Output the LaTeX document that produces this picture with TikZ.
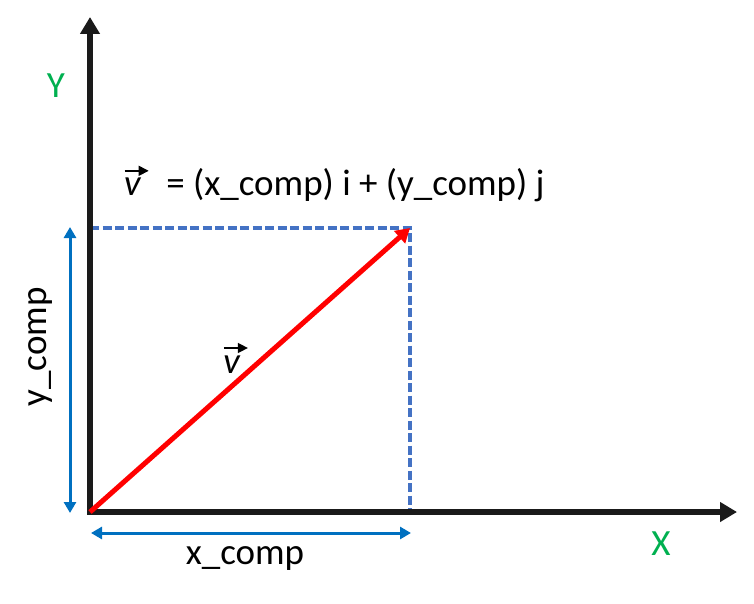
\documentclass[tikz,border=0pt]{standalone}
\usepackage{fontspec}
\setmainfont{Carlito}
\usetikzlibrary{arrows.meta,positioning}
\definecolor{axisgreen}{HTML}{00B050}
\definecolor{compblue}{HTML}{0070C0}
\definecolor{guideblue}{HTML}{4472C4}
\definecolor{axisblack}{HTML}{1A1A1A}
\newcommand{\vecsym}{\textit{v}\llap{\tikz[baseline]{\draw[line width=1.5pt,-{Triangle[length=10pt,width=10pt]}] (0,25pt) -- (24pt,25pt);}\kern-8pt}}

\begin{document}
\begin{tikzpicture}[x=1pt,y=-1pt,
	axis/.style={axisblack, line width=6.5pt, -{Triangle[length=17pt,width=19pt]}},
	comp/.style={compblue, line width=3pt, {Triangle[length=11pt,width=12pt]}-{Triangle[length=11pt,width=12pt]}},
	guide/.style={guideblue, line width=3.2pt, dash pattern=on 9pt off 3.5pt},
	vecarrow/.style={red, line width=5pt, -{Triangle[length=14pt,width=16pt]}},
	lbl/.style={font=\fontsize{37}{40}\selectfont, inner sep=0pt}]
	\useasboundingbox (0,0) rectangle (754,604);
	% Points
	\coordinate (O) at (90,512);
	\coordinate (P) at (410,228);
	\coordinate (Ytop) at (90,17);
	\coordinate (Xend) at (737,512);
	\coordinate (Py) at (90,228);
	\coordinate (Px) at (410,512);
	
	% Guides
	\draw[guide] (Py) -- (P) -- (Px);
	
	% Axes
	\draw[axis] (O) -- (Ytop);
	\draw[axis] ([xshift=-3pt]O) -- (Xend);
	\node[lbl, text=axisgreen] (ylab) at (56,86) {Y};
	\node[lbl, text=axisgreen] (xlab) at (661,544) {X};
	
	% Components
	\coordinate (yc1) at (70,227);
	\coordinate (yc2) at (70,513);
	\coordinate (xc1) at (91,533);
	\coordinate (xc2) at (411,533);
	\draw[comp] (yc1) -- (yc2);
	\draw[comp] (xc1) -- (xc2);
	\node[lbl, rotate=90] (ycomp) at (40,347) {y\_comp};
	\node[lbl] (xcomp) at (245,558) {x\_comp};
	
	% Vector
	\draw[vecarrow] (O) -- (P);
	\node[lbl] (vlab) at (232,358) {\vecsym};
	\node[lbl, anchor=west] (eqn) at (124,184) {\vecsym\hspace{0.45em} = (x\_comp) i + (y\_comp) j};
\end{tikzpicture}
\end{document}
